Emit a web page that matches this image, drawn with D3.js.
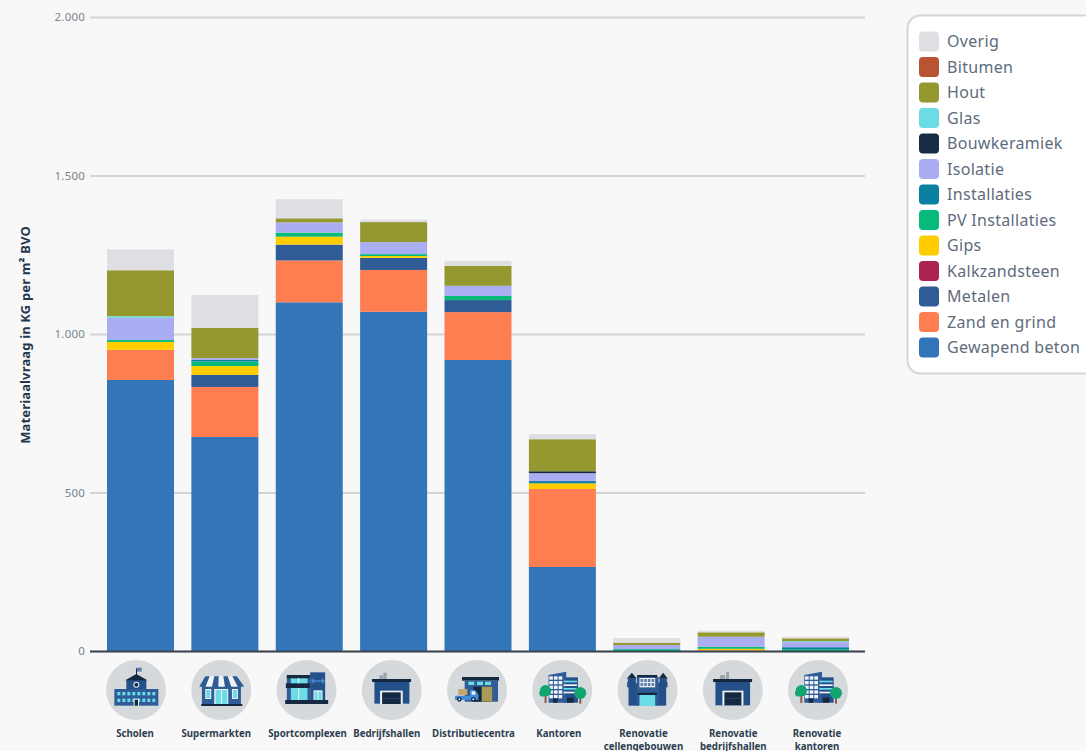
<!DOCTYPE html>
<html><head><meta charset="utf-8">
<script src="https://cdn.jsdelivr.net/npm/d3@7/dist/d3.min.js"></script>
<style>
html,body{margin:0;padding:0;background:#f8f8f8;overflow:hidden}
text{font-family:"Noto Sans",sans-serif}
</style></head><body>
<svg id="c" width="1086" height="751"></svg>
<script>
const categories=["Scholen","Supermarkten","Sportcomplexen","Bedrijfshallen","Distributiecentra","Kantoren","Renovatie cellengebouwen","Renovatie bedrijfshallen","Renovatie kantoren"];
const materials=["Gewapend beton","Zand en grind","Metalen","Kalkzandsteen","Gips","PV Installaties","Installaties","Isolatie","Bouwkeramiek","Glas","Hout","Bitumen","Overig"];
const colors=["#3275b9","#fe7e52","#2f5b96","#ad2353","#ffcc00","#06bb7a","#0a7f9f","#abadf3","#152c43","#6bdce6","#94982f","#b95433","#dfdfe3"];
const gewapendBeton=[855,675,1100,1070,918,265,0,0,0];
const zandEnGrind=[95,158,132,132,151,246,0,2,0];
const metalen=[0,38,50,38,38,0,0,0,0];
const kalkzandsteen=[0,0,0,0,0,0,0,0,0];
const gips=[25,28,25,6,0,18,0,5,0];
const pvInstallaties=[6,14,13,6,13,0,6,6,6];
const installaties=[0,5,0,0,0,7,0,0,6];
const isolatie=[70,6,32,38,32,25,13,32,16];
const bouwkeramiek=[0,0,0,0,0,6,0,0,0];
const glas=[5,0,0,0,0,0,0,0,3];
const hout=[145,95,13,63,63,101,7,14,9];
const bitumen=[0,0,0,0,0,0,0,0,0];
const overig=[66,104,60,8,16,16,15,5,5];
const seriesValues=[gewapendBeton,zandEnGrind,metalen,kalkzandsteen,gips,pvInstallaties,installaties,isolatie,bouwkeramiek,glas,hout,bitumen,overig];
const yTicks=[0,500,1000,1500,2000];
const yTitle="Materiaalvraag in KG per m² BVO";

const svg=d3.select("#c");
const y=d3.scaleLinear().domain([0,2000]).range([651,17]);
const x=d3.scaleBand().domain(categories).range([107,849]).paddingInner(0.206).paddingOuter(0);
const iconX=d3.scalePoint().domain(categories).range([136,818]);
const labelShift=[-1,-5,1,-5,-3.5,-3.5,-4,0.5,-1];

// axis and grid
const ax=svg.append("g").attr("transform","translate(90,0)")
 .call(d3.axisLeft(y).tickValues(yTicks).tickSize(-775).tickPadding(5)
 .tickFormat(d=>d3.format(",")(d).replace(/,/g,".")));
ax.select(".domain").remove();
ax.selectAll(".tick line").attr("stroke","#d3d3d3").attr("stroke-width",2);
ax.selectAll(".tick text").attr("fill","#77848f").attr("font-size",11.5).attr("letter-spacing",0.2).attr("font-family",'"Noto Sans",sans-serif');

svg.append("text").attr("transform","translate(30,335) rotate(-90)").attr("text-anchor","middle")
 .attr("font-size",13).attr("letter-spacing",0.15).attr("font-weight",700).attr("fill","#24384d").text(yTitle);

// stacks
const table=categories.map((c,i)=>{const o={c};materials.forEach((m,k)=>o[m]=seriesValues[k][i]);return o;});
const stack=d3.stack().keys(materials)(table);
svg.append("g").selectAll("g").data(stack).join("g").attr("fill",(d,i)=>colors[i])
 .selectAll("rect").data(d=>d).join("rect")
 .attr("x",d=>x(d.data.c)).attr("width",x.bandwidth())
 .attr("y",d=>y(d[1])).attr("height",d=>y(d[0])-y(d[1]));

// baseline
svg.append("line").attr("x1",90).attr("x2",865).attr("y1",y(0)+0.5).attr("y2",y(0)+0.5).attr("stroke","#3b4550").attr("stroke-width",2);

// legend
const lg=svg.append("g");
lg.append("rect").attr("x",907.5).attr("y",15.5).attr("width",220).attr("height",358).attr("rx",13)
 .attr("fill","#fff").attr("stroke","#d6d6d6").attr("stroke-width",2);
const legendOrder=materials.map((m,i)=>({m,c:colors[i]})).reverse();
const ly=d3.scalePoint().domain(legendOrder.map(d=>d.m)).range([41.5,347.5]);
const li=lg.selectAll("g").data(legendOrder).join("g").attr("transform",d=>`translate(0,${ly(d.m)})`);
li.append("rect").attr("x",919).attr("y",-10).attr("width",20).attr("height",20).attr("rx",4).attr("fill",d=>d.c);
li.append("text").attr("x",947).attr("y",5.9).attr("font-size",16).attr("letter-spacing",0.3).attr("fill","#5e6c7c").text(d=>d.m);

// icons (drawn in the zoomed 3x space around each circle centre)
const B="#2f5b96",D="#14283f",N="#24508a",C="#6bdce6",W="#eef3f6",G="#9aa5ad";
function mk(g,cx,cy){
 const s=g.append("g").attr("transform",`scale(${1/3}) translate(${-cx},${-cy})`);
 return {r:(a,b,c,d,f)=>s.append("rect").attr("x",a).attr("y",b).attr("width",c-a).attr("height",d-b).attr("fill",f),
  p:(pts,f)=>s.append("polygon").attr("points",pts).attr("fill",f),
  c:(a,b,rr,f)=>s.append("circle").attr("cx",a).attr("cy",b).attr("r",rr).attr("fill",f)};
}
function school(g){const k=mk(g,137,120);
 k.r(72,117,204,167,B);k.r(108,90,168,117,"#24508a");k.p("105,91 171,91 138,72",D);
 k.r(137,55,140,75,D);k.r(140,53,154,65,"#5c82b0");k.c(138,104,9,W);k.c(138,104,6,D);
 for(const yy of [126,146])for(const xx of [81,96,111,126,141,156,171,186])k.r(xx,yy,xx+9,yy+10,C);
 k.r(130,146,146,167,W);k.r(133,149,143,167,D);}
function market(g){const k=mk(g,393,120);
 k.r(335,108,452,165,B);k.r(333,162,456,168,D);
 const n=7,t0=345,t1=440,b0=327,b1=462;
 for(let i=0;i<n;i++){const a=t0+(t1-t0)*i/n,a2=t0+(t1-t0)*(i+1)/n,c=b0+(b1-b0)*i/n,c2=b0+(b1-b0)*(i+1)/n;
  k.p(`${a},79 ${a2},79 ${c2},110 ${c},110`,i%2?W:B);}
 for(const xx of [345,425]){k.r(xx,117,xx+18,147,W);k.r(xx+3,120,xx+15,144,C);}
 k.r(372,117,414,162,W);k.r(376,120,392,162,C);k.r(395,120,411,162,C);}
function sport(g){const k=mk(g,649,120);
 k.r(660,67,705,152,N);k.r(590,75,660,152,B);k.r(602,84,652,150,C);
 k.r(590,75,660,85,D);k.r(587,100,660,114,D);k.r(585,150,714,162,D);
 k.r(624,84,627,100,W);k.r(624,114,627,150,W);
 k.r(670,121,697,150,W);k.r(673,125,682,150,C);k.r(685,125,694,150,C);
 k.r(668,86,672,100,"#4a90d9");k.r(695,86,699,100,"#4a90d9");k.r(672,91,695,95,"#4a90d9");k.r(664,89,668,97,"#4a90d9");k.r(699,89,703,97,"#4a90d9");}
function hall(g,two){const k=mk(g,two?908:905,120);
 if(two){k.r(870,75,885,88,G);k.r(888,66,897,88,G);k.r(849,87,966,96,D);k.r(856,96,960,166,N);k.r(877,122,940,166,W);k.r(883,127,934,166,D);k.r(883,145,934,147,N);}
 else{k.r(868,76,880,88,G);k.r(880,68,890,88,G);k.r(846,87,963,96,D);k.r(853,96,958,161,N);k.r(870,122,938,162,W);k.r(876,127,932,162,D);k.r(876,145,932,147,N);}}
function dist(g){const k=mk(g,141,120);
 k.r(96,81,207,92,D);k.r(104,92,204,155,B);
 for(const xx of [115,141,165])k.r(xx,95,xx+18,105,C);
 k.r(130,110,187,155,D);k.r(155,110,187,155,"#a89a5a");k.r(85,117,112,135,"#c4a66a");
 k.p("75,137 120,137 120,120 135,120 145,133 145,150 75,150","#3f8edc");k.r(125,124,136,134,W);
 k.c(88,148,7,D);k.c(130,148,7,D);k.c(88,148,3,W);k.c(130,148,3,W);}
function office(g,cx){const k=mk(g,cx,120);
 const o=cx-396;
 k.r(397+o,82,443+o,158,N);k.p(`${355+o},75 ${408+o},65 ${408+o},158 ${355+o},158`,B);
 for(let i=0;i<5;i++)for(let j=0;j<3;j++)k.r(357+o+j*14,79+i*14,357+o+j*14+11,79+i*14+10,W);
 for(let i=0;i<4;i++)k.r(400+o,92+i*11,440+o,92+i*11+5,i%2?W:C);
 k.r(368+o,145,382+o,158,D);k.r(410+o,143,430+o,158,D);
 k.r(343+o,138,349+o,159,"#8a5a4a");k.c(346+o,122,17,"#12a56f");k.c(337+o,130,10,"#12a56f");
 k.r(447+o,138,453+o,161,"#8a5a4a");k.c(450+o,129,18,"#12a56f");}
function cell(g){const k=mk(g,652,120);
 k.r(595,100,625,167,N);k.r(680,100,708,167,N);k.r(620,80,685,167,B);
 k.r(591,96,618,112,N);k.r(686,96,712,112,N);
 k.p("590,86 620,86 605,68",D);k.p("685,86 713,86 699,68",D);k.r(593,86,617,97,N);k.r(688,86,710,97,N);
 k.r(621,75,681,81,D);k.r(628,84,675,112,W);
 for(let i=0;i<2;i++)for(let j=0;j<4;j++)k.r(631+j*11,87+i*12,631+j*11+8,87+i*12+9,"#5c82b0");
 k.r(622,128,680,135,D);k.r(628,135,675,168,C);}
const drawers=[school,market,sport,g=>hall(g,false),dist,g=>office(g,396),cell,g=>hall(g,true),g=>office(g,1164)];
const labels=[["Scholen"],["Supermarkten"],["Sportcomplexen"],["Bedrijfshallen"],["Distributiecentra"],["Kantoren"],["Renovatie","cellengebouwen"],["Renovatie","bedrijfshallen"],["Renovatie","kantoren"]];
const ic=svg.append("g").selectAll("g").data(categories).join("g").attr("transform",d=>`translate(${iconX(d)},690)`);
ic.append("circle").attr("r",30).attr("fill","#d6d9dc");
ic.each(function(d,i){const g=d3.select(this);drawers[i](g);
 const t=g.append("text").attr("text-anchor","middle").attr("font-size",9.7).attr("font-weight",700).attr("fill","#2c3e50");
 labels[i].forEach((l,j)=>t.append("tspan").attr("x",labelShift[i]).attr("y",47+j*12.5).text(l));});
</script>
</body></html>
